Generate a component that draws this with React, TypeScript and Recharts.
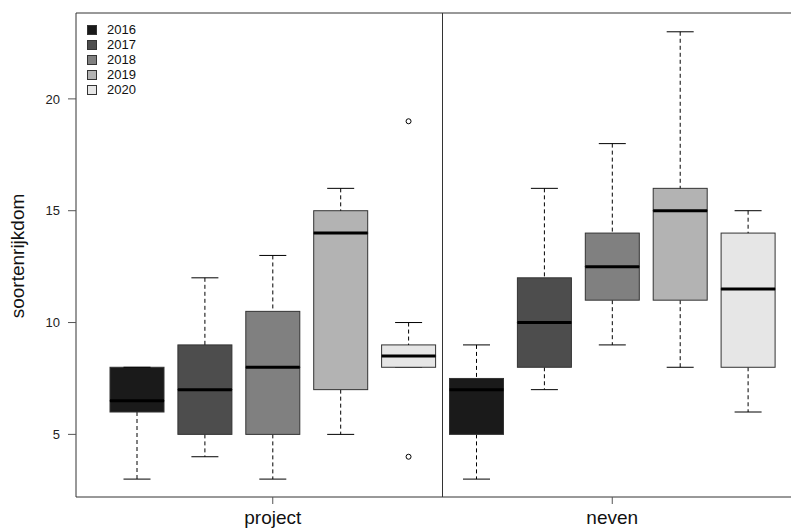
import React from "react"
import {
  ComposedChart,
  Bar,
  Scatter,
  XAxis,
  YAxis,
  ReferenceLine,
  Legend,
} from "recharts"

const groups = ["project", "neven"]
const years = ["2016", "2017", "2018", "2019", "2020"]
const yearColors = ["#1a1a1a", "#4d4d4d", "#808080", "#b3b3b3", "#e6e6e6"]

// five-number summaries per year
const projectMin = [3, 4, 3, 5, 8]
const projectQ1 = [6, 5, 5, 7, 8]
const projectMedian = [6.5, 7, 8, 14, 8.5]
const projectQ3 = [8, 9, 10.5, 15, 9]
const projectMax = [8, 12, 13, 16, 10]

const nevenMin = [3, 7, 9, 8, 6]
const nevenQ1 = [5, 8, 11, 11, 8]
const nevenMedian = [7, 10, 12.5, 15, 11.5]
const nevenQ3 = [7.5, 12, 14, 16, 14]
const nevenMax = [9, 16, 18, 23, 15]

// outliers: box position (1..10) and value
const outlierPos = [5, 5]
const outlierVal = [19, 4]

const yTicks = [5, 10, 15, 20]
const yMin = 2.2
const yMax = 23.84

const FONT = "'Liberation Sans', Arial, sans-serif"
const INK = "#333"

const summaries = [
  [projectMin, projectQ1, projectMedian, projectQ3, projectMax],
  [nevenMin, nevenQ1, nevenMedian, nevenQ3, nevenMax],
]

const rows = groups.flatMap((g, gi) =>
  years.map((yr, yi) => {
    const [mn, q1, md, q3, mx] = summaries[gi].map((arr) => arr[yi])
    return {
      key: `${g}-${yr}`,
      group: g,
      yearIndex: yi,
      color: yearColors[yi],
      base: mn,
      lowWhisker: q1 - mn,
      lowBox: md - q1,
      highBox: q3 - md,
      highWhisker: mx - q3,
    }
  })
)

const outliers = outlierPos.map((x, i) => ({ x, y: outlierVal[i] }))

const LowWhisker = (props: any) => {
  const { x, y, width, height } = props
  const cx = x + width / 2
  const cap = width / 4
  return (
    <g>
      <line x1={cx} x2={cx} y1={y} y2={y + height} stroke="#000" strokeDasharray="4 3" />
      <line x1={cx - cap} x2={cx + cap} y1={y + height} y2={y + height} stroke="#000" />
    </g>
  )
}

const HighWhisker = (props: any) => {
  const { x, y, width, height } = props
  const cx = x + width / 2
  const cap = width / 4
  return (
    <g>
      <line x1={cx} x2={cx} y1={y} y2={y + height} stroke="#000" strokeDasharray="4 3" />
      <line x1={cx - cap} x2={cx + cap} y1={y} y2={y} stroke="#000" />
    </g>
  )
}

const LowBox = (props: any) => {
  const { x, y, width, height, payload } = props
  return <rect x={x} y={y} width={width} height={height} fill={payload.color} stroke={INK} />
}

const HighBox = (props: any) => {
  const { x, y, width, height, payload } = props
  return (
    <g>
      <rect x={x} y={y} width={width} height={height} fill={payload.color} stroke={INK} />
      <line x1={x} x2={x + width} y1={y + height} y2={y + height} stroke="#000" strokeWidth={3} />
    </g>
  )
}

const GroupTick = (props: any) => {
  const { x, y, payload } = props
  const row = rows[payload.index]
  if (!row || row.yearIndex !== 2) return <g />
  return (
    <g>
      <line x1={x} x2={x} y1={y} y2={y + 7} stroke="#555" />
      <text x={x} y={y + 27} textAnchor="middle" fontSize={19} fontFamily={FONT} fill="#111">
        {row.group}
      </text>
    </g>
  )
}

const YLabel = (props: any) => {
  const { viewBox } = props
  const cy = viewBox.y + viewBox.height / 2
  return (
    <text
      transform={`translate(16, ${cy + 1}) rotate(-90)`}
      textAnchor="middle"
      fontSize={19}
      fontFamily={FONT}
      fill="#111"
    >
      soortenrijkdom
    </text>
  )
}

const YearLegend = () => (
  <div style={{ fontFamily: FONT, fontSize: 13, color: "#111" }}>
    {years.map((yr, i) => (
      <div key={yr} style={{ display: "flex", alignItems: "center", height: 15 }}>
        <span
          style={{
            width: 10,
            height: 10,
            background: yearColors[i],
            border: `1px solid ${INK}`,
            marginRight: 10,
            boxSizing: "border-box",
          }}
        />
        <span>{yr}</span>
      </div>
    ))}
  </div>
)

export default function App() {
  return (
    <div style={{ width: 791, height: 524, overflow: "hidden" }}>
      <ComposedChart
        width={811}
        height={524}
        data={rows}
        margin={{ top: 5, right: 10, left: 0, bottom: 0 }}
      >
        <XAxis
          dataKey="key"
          type="category"
          interval={0}
          height={35}
          padding={{ left: 27, right: 27 }}
          tickSize={0}
          tickMargin={0}
          tickLine={false}
          axisLine={{ stroke: INK }}
          tick={<GroupTick />}
        />
        <XAxis xAxisId="num" type="number" dataKey="x" domain={[0.5, 10.5]} padding={{ left: 27, right: 27 }} hide />
        <YAxis
          type="number"
          domain={[yMin, yMax]}
          allowDataOverflow
          ticks={yTicks}
          width={68}
          tickSize={8}
          tickMargin={8}
          axisLine={{ stroke: INK }}
          tickLine={{ stroke: "#555" }}
          tick={{ fontSize: 13, fontFamily: FONT, fill: "#222" }}
          label={<YLabel />}
        />
        <Legend
          layout="vertical"
          align="center"
          verticalAlign="middle"
          content={<YearLegend />}
          wrapperStyle={{ left: 79, top: 14, width: 80, height: 80 }}
        />
        <ReferenceLine y={yMax} stroke={INK} />
        <ReferenceLine xAxisId="num" x={5.5} stroke={INK} />
        <Bar dataKey="base" stackId="box" barSize={54} fill="none" isAnimationActive={false} />
        <Bar dataKey="lowWhisker" stackId="box" barSize={54} shape={<LowWhisker />} isAnimationActive={false} />
        <Bar dataKey="lowBox" stackId="box" barSize={54} shape={<LowBox />} isAnimationActive={false} />
        <Bar dataKey="highBox" stackId="box" barSize={54} shape={<HighBox />} isAnimationActive={false} />
        <Bar dataKey="highWhisker" stackId="box" barSize={54} shape={<HighWhisker />} isAnimationActive={false} />
        <Scatter
          xAxisId="num"
          data={outliers}
          dataKey="y"
          fill="#fff"
          stroke="#000"
          shape={(p: any) => <circle cx={p.cx} cy={p.cy} r={2.5} fill="#fff" stroke="#000" />}
          isAnimationActive={false}
        />
      </ComposedChart>
    </div>
  )
}
